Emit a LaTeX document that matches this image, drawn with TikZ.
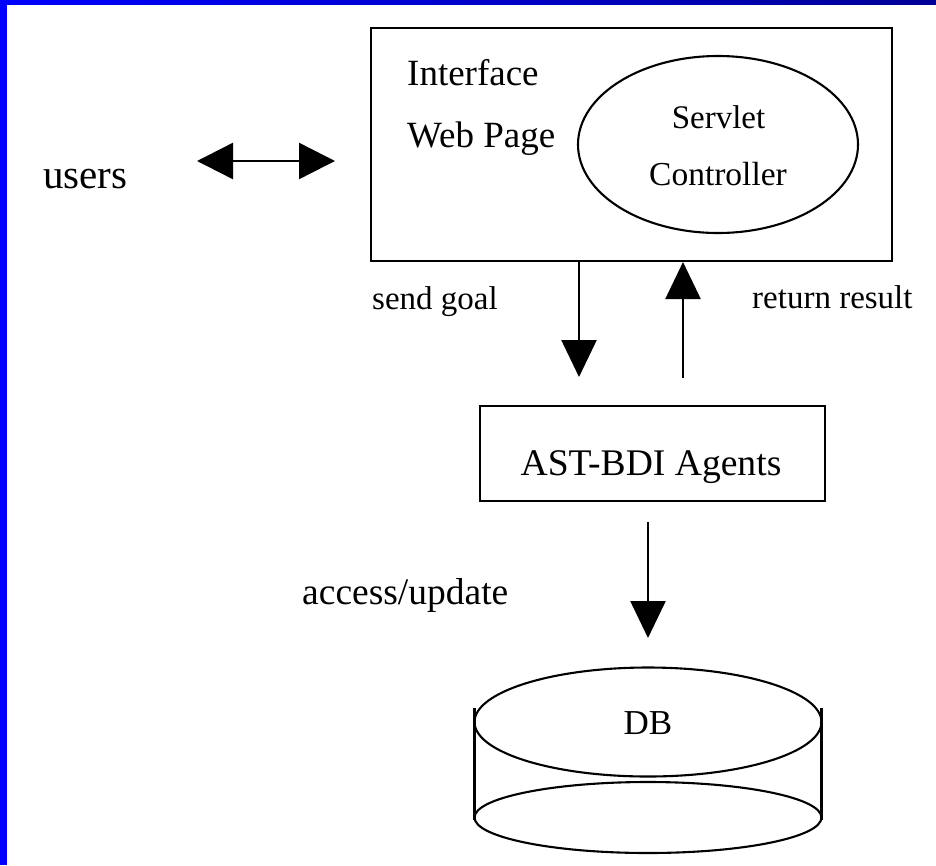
\documentclass[tikz,border=0pt]{standalone}
\usepackage{fontspec}
\setmainfont{Liberation Serif}
\usetikzlibrary{arrows.meta,shapes.geometric}
\begin{document}
\begin{tikzpicture}[x=1pt,y=-1pt,
  box/.style={draw,line width=2.6pt,inner sep=0pt},
  oval/.style={draw,ellipse,line width=2.1pt,inner sep=0pt},
  lbl/.style={anchor=base west,inner sep=0pt},
  clbl/.style={anchor=base,inner sep=0pt},
  conn/.style={line width=2.4pt,-{Triangle[length=37pt,width=35pt]}},
  dconn/.style={line width=2.4pt,{Triangle[length=36pt,width=36pt]}-{Triangle[length=36pt,width=36pt]}}]
\useasboundingbox (0,0) rectangle (936,865);
\fill[white] (0,0) rectangle (936,865);
\fill[blue] (0,0) rectangle (7,865);
\shade[left color=blue,right color={rgb,255:red,0;green,0;blue,150}] (0,0) rectangle (936,4.5);

% interface box
\node[box,minimum width=521pt,minimum height=233pt] (iface) at (631.5,144.5) {};
\node[oval,minimum width=280pt,minimum height=177pt] (servlet) at (718,144.5) {};
\node[lbl,font=\fontsize{37}{40}\selectfont] (tint) at (407,85) {Interface};
\node[lbl,font=\fontsize{37}{40}\selectfont] (tweb) at (407,147) {Web Page};
\node[clbl,font=\fontsize{33}{36}\selectfont] (tserv) at (718.5,128) {Servlet};
\node[clbl,font=\fontsize{33.5}{36}\selectfont] (tctrl) at (718,185) {Controller};

% users
\node[lbl,font=\fontsize{41}{44}\selectfont] (users) at (43,188) {users};
\coordinate (ul) at (197,161);
\coordinate (ur) at (335,161);
\draw[dconn] (ul) -- (ur);

% send goal / return result
\coordinate (sg0) at (579,261);
\coordinate (sg1) at (579,377);
\draw[conn] (sg0) -- (sg1);
\coordinate (rr0) at (683,378);
\coordinate (rr1) at (683,262);
\draw[conn] (rr0) -- (rr1);
\node[lbl,font=\fontsize{33}{36}\selectfont] (tsend) at (372,309) {send goal};
\node[lbl,font=\fontsize{33}{36}\selectfont] (tret) at (752,308) {return result};

% agents
\node[box,minimum width=345pt,minimum height=95pt] (ast) at (652.5,453.5) {};
\node[clbl,font=\fontsize{37.6}{40}\selectfont] (tast) at (651,475) {AST-BDI Agents};

% access/update
\coordinate (au0) at (648,522);
\coordinate (au1) at (648,638);
\draw[conn] (au0) -- (au1);
\node[lbl,font=\fontsize{37.5}{40}\selectfont] (tacc) at (302,604) {access/update};

% DB cylinder
\node[oval,minimum width=347pt,minimum height=109pt] (dbtop) at (648,722) {};
\node[oval,minimum width=347pt,minimum height=71pt] (dbbot) at (648,817.5) {};
\coordinate (dl0) at (474.5,708);
\coordinate (dl1) at (474.5,820);
\coordinate (dr0) at (821.5,708);
\coordinate (dr1) at (821.5,820);
\draw[line width=2.1pt] (dl0) -- (dl1);
\draw[line width=2.1pt] (dr0) -- (dr1);
\node[clbl,font=\fontsize{35}{38}\selectfont] (tdb) at (648,734) {DB};
\end{tikzpicture}
\end{document}
